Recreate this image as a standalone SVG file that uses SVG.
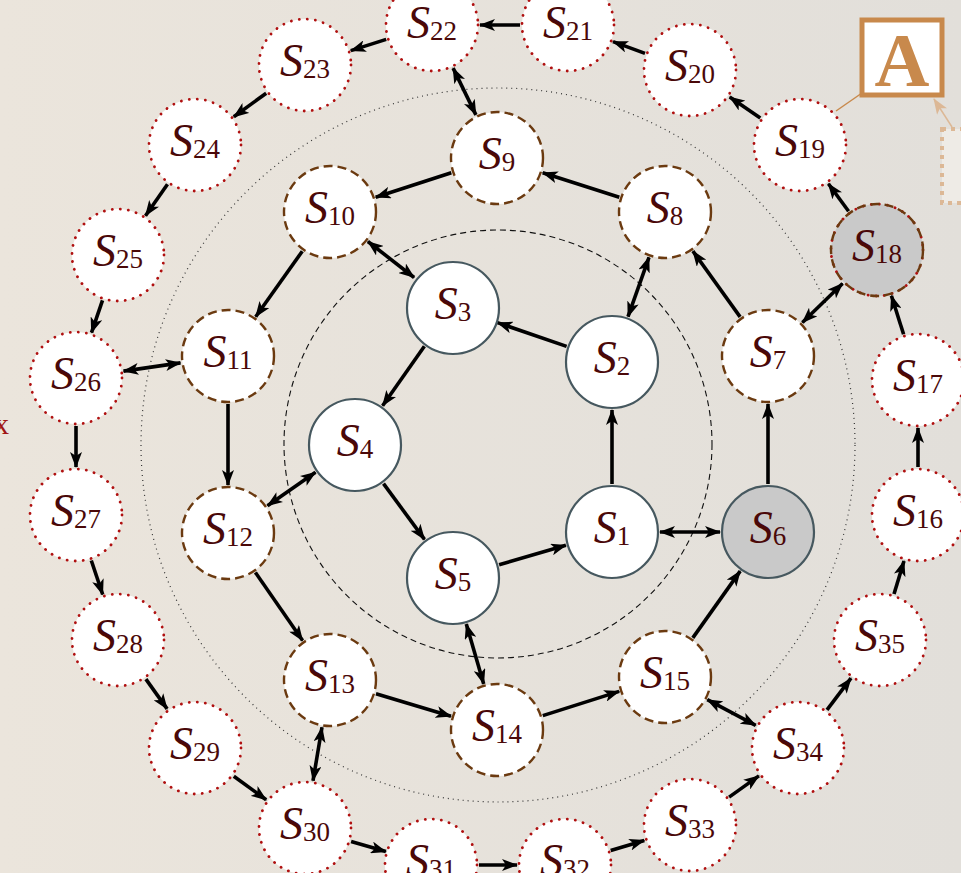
<svg xmlns="http://www.w3.org/2000/svg" width="961" height="873" viewBox="0 0 961 873">
<defs>
<linearGradient id="bg" x1="0" y1="0" x2="1" y2="0">
<stop offset="0" stop-color="#ebe5dc"/>
<stop offset="1" stop-color="#e2dfda"/>
</linearGradient>
<marker id="ah" viewBox="0 0 16 12" refX="15" refY="6" markerWidth="16" markerHeight="12" markerUnits="userSpaceOnUse" orient="auto-start-reverse">
<path d="M0,0 L16,6 L0,12 L4,6 z" fill="#000"/>
</marker>
<marker id="ah2" viewBox="0 0 16 12" refX="15" refY="6" markerWidth="16" markerHeight="12" markerUnits="userSpaceOnUse" orient="auto">
<path d="M0,0 L16,6 L0,12 L4,6 z" fill="#dcb896"/>
</marker>
</defs>
<style>
.in{fill:#fff;stroke:#46585f;stroke-width:2.2}
.mid{fill:#fff;stroke:#6b3a10;stroke-width:2.4;stroke-dasharray:9 5}
.out{fill:#fff;stroke:#b01010;stroke-width:2.8;stroke-dasharray:0.1 8;stroke-linecap:round}
.gray{fill:#c9c9c9}
.lb{font-family:"Liberation Serif",serif;font-style:italic;font-size:46px;fill:#4a0808;text-anchor:middle}
.sb{font-style:normal;font-size:27px}
.e{stroke:#000;stroke-width:3.6;fill:none;marker-end:url(#ah)}
.b{stroke:#000;stroke-width:3.6;fill:none;marker-end:url(#ah);marker-start:url(#ah)}
</style>
<rect x="0" y="0" width="961" height="873" fill="url(#bg)"/>
<circle cx="498" cy="445" r="357" fill="none" stroke="#333" stroke-width="1.2" stroke-dasharray="1 4"/>
<circle cx="498" cy="444" r="214" fill="none" stroke="#111" stroke-width="1.1" stroke-dasharray="6 4"/>
<text x="-6" y="434" font-family="Liberation Serif,serif" font-size="30" fill="#a01515">x</text>

<g id="connectors">
<line class="e" x1="612" y1="484" x2="612" y2="410"/>
<line class="e" x1="566.6" y1="346.4" x2="497.4" y2="322.6"/>
<line class="e" x1="424.4" y1="346.3" x2="382.6" y2="405.7"/>
<line class="e" x1="383.5" y1="483.6" x2="424.5" y2="539.4"/>
<line class="e" x1="499.1" y1="564.7" x2="565.9" y2="545.3"/>
<line class="b" x1="660" y1="532" x2="720" y2="532"/>
<line class="e" x1="768" y1="484" x2="768" y2="404"/>
<line class="e" x1="692.8" y1="637.9" x2="740.2" y2="571.1"/>
<line class="e" x1="740.1" y1="316.9" x2="692.9" y2="251.1"/>
<line class="e" x1="619.3" y1="197.3" x2="542.7" y2="172.7"/>
<line class="e" x1="451.3" y1="172.8" x2="375.7" y2="197.2"/>
<line class="e" x1="302.3" y1="251.2" x2="255.7" y2="316.8"/>
<line class="e" x1="228" y1="404" x2="228" y2="485"/>
<line class="e" x1="255.4" y1="572.4" x2="302.6" y2="640.6"/>
<line class="e" x1="376" y1="693.8" x2="451" y2="716.2"/>
<line class="e" x1="542.8" y1="715.6" x2="619.2" y2="691.4"/>
<line class="b" x1="628" y1="316.7" x2="649" y2="257.3"/>
<line class="b" x1="414.1" y1="277.5" x2="367.9" y2="241.5"/>
<line class="b" x1="315.5" y1="472.3" x2="267.5" y2="505.7"/>
<line class="b" x1="466.3" y1="624.1" x2="483.7" y2="683.9"/>
<line class="b" x1="802.4" y1="322.5" x2="842.6" y2="283.5"/>
<line class="b" x1="475.9" y1="114.9" x2="453.1" y2="68.1"/>
<line class="b" x1="180.5" y1="362.9" x2="123.5" y2="371.1"/>
<line class="b" x1="322" y1="727.3" x2="313" y2="780.7"/>
<line class="b" x1="707.3" y1="699.6" x2="755.7" y2="725.4"/>
<line class="e" x1="918" y1="467" x2="918" y2="428"/>
<line class="e" x1="903.6" y1="334.2" x2="891.4" y2="295.8"/>
<line class="e" x1="848.6" y1="211.3" x2="828.4" y2="183.7"/>
<line class="e" x1="760.3" y1="118" x2="729.7" y2="97"/>
<line class="e" x1="645" y1="53.4" x2="613" y2="41.6"/>
<line class="e" x1="520" y1="25" x2="480" y2="25"/>
<line class="e" x1="386.2" y1="39.4" x2="350.8" y2="50.6"/>
<line class="e" x1="266.2" y1="93.2" x2="233.8" y2="116.8"/>
<line class="e" x1="167.5" y1="184.3" x2="145.5" y2="215.7"/>
<line class="e" x1="102.5" y1="300.4" x2="91.5" y2="332.6"/>
<line class="e" x1="76" y1="426" x2="76" y2="467"/>
<line class="e" x1="91.3" y1="560.5" x2="102.7" y2="594.5"/>
<line class="e" x1="145.9" y1="679.1" x2="167.1" y2="708.9"/>
<line class="e" x1="233.8" y1="776.2" x2="266.2" y2="799.8"/>
<line class="e" x1="351.1" y1="841.4" x2="385.9" y2="851.6"/>
<line class="e" x1="479" y1="865" x2="517" y2="865"/>
<line class="e" x1="610.7" y1="850.4" x2="644.3" y2="840.4"/>
<line class="e" x1="729.1" y1="797.1" x2="758.9" y2="775.9"/>
<line class="e" x1="827" y1="709.8" x2="851" y2="678.2"/>
<line class="e" x1="894" y1="594" x2="904" y2="561"/>
</g>

<g id="S1"><circle class="in" cx="612" cy="532" r="46"/><text class="lb" x="612" y="543">S<tspan class="sb" dy="2">1</tspan></text></g>
<g id="S2"><circle class="in" cx="612" cy="362" r="46"/><text class="lb" x="612" y="373">S<tspan class="sb" dy="2">2</tspan></text></g>
<g id="S3"><circle class="in" cx="453" cy="308" r="46"/><text class="lb" x="453" y="319">S<tspan class="sb" dy="2">3</tspan></text></g>
<g id="S4"><circle class="in" cx="355" cy="445" r="46"/><text class="lb" x="355" y="456">S<tspan class="sb" dy="2">4</tspan></text></g>
<g id="S5"><circle class="in" cx="453" cy="578" r="46"/><text class="lb" x="453" y="589">S<tspan class="sb" dy="2">5</tspan></text></g>
<g id="S6"><circle class="in gray" cx="768" cy="532" r="46"/><text class="lb" x="768" y="543">S<tspan class="sb" dy="2">6</tspan></text></g>

<g id="S7"><circle class="mid" cx="768" cy="356" r="46"/><text class="lb" x="768" y="367">S<tspan class="sb" dy="2">7</tspan></text></g>
<g id="S8"><circle class="mid" cx="665" cy="212" r="46"/><text class="lb" x="665" y="223">S<tspan class="sb" dy="2">8</tspan></text></g>
<g id="S9"><circle class="mid" cx="497" cy="158" r="46"/><text class="lb" x="497" y="169">S<tspan class="sb" dy="2">9</tspan></text></g>
<g id="S10"><circle class="mid" cx="330" cy="212" r="46"/><text class="lb" x="330" y="223">S<tspan class="sb" dy="2">10</tspan></text></g>
<g id="S11"><circle class="mid" cx="228" cy="356" r="46"/><text class="lb" x="228" y="367">S<tspan class="sb" dy="2">11</tspan></text></g>
<g id="S12"><circle class="mid" cx="228" cy="533" r="46"/><text class="lb" x="228" y="544">S<tspan class="sb" dy="2">12</tspan></text></g>
<g id="S13"><circle class="mid" cx="330" cy="680" r="46"/><text class="lb" x="330" y="691">S<tspan class="sb" dy="2">13</tspan></text></g>
<g id="S14"><circle class="mid" cx="497" cy="730" r="46"/><text class="lb" x="497" y="741">S<tspan class="sb" dy="2">14</tspan></text></g>
<g id="S15"><circle class="mid" cx="665" cy="677" r="46"/><text class="lb" x="665" y="688">S<tspan class="sb" dy="2">15</tspan></text></g>
<g id="S18"><circle class="out gray" cx="877" cy="250" r="46"/><circle class="mid" cx="877" cy="250" r="46" style="fill:none"/><text class="lb" x="877" y="261">S<tspan class="sb" dy="2">18</tspan></text></g>

<g id="S16"><circle class="out" cx="918" cy="515" r="46"/><text class="lb" x="918" y="526">S<tspan class="sb" dy="2">16</tspan></text></g>
<g id="S17"><circle class="out" cx="918" cy="380" r="46"/><text class="lb" x="918" y="391">S<tspan class="sb" dy="2">17</tspan></text></g>
<g id="S19"><circle class="out" cx="800" cy="145" r="46"/><text class="lb" x="800" y="156">S<tspan class="sb" dy="2">19</tspan></text></g>
<g id="S20"><circle class="out" cx="690" cy="70" r="46"/><text class="lb" x="690" y="81">S<tspan class="sb" dy="2">20</tspan></text></g>
<g id="S21"><circle class="out" cx="568" cy="25" r="46"/><text class="lb" x="568" y="38">S<tspan class="sb" dy="2">21</tspan></text></g>
<g id="S22"><circle class="out" cx="432" cy="25" r="46"/><text class="lb" x="432" y="38">S<tspan class="sb" dy="2">22</tspan></text></g>
<g id="S23"><circle class="out" cx="305" cy="65" r="46"/><text class="lb" x="305" y="76">S<tspan class="sb" dy="2">23</tspan></text></g>
<g id="S24"><circle class="out" cx="195" cy="145" r="46"/><text class="lb" x="195" y="156">S<tspan class="sb" dy="2">24</tspan></text></g>
<g id="S25"><circle class="out" cx="118" cy="255" r="46"/><text class="lb" x="118" y="266">S<tspan class="sb" dy="2">25</tspan></text></g>
<g id="S26"><circle class="out" cx="76" cy="378" r="46"/><text class="lb" x="76" y="389">S<tspan class="sb" dy="2">26</tspan></text></g>
<g id="S27"><circle class="out" cx="76" cy="515" r="46"/><text class="lb" x="76" y="526">S<tspan class="sb" dy="2">27</tspan></text></g>
<g id="S28"><circle class="out" cx="118" cy="640" r="46"/><text class="lb" x="118" y="651">S<tspan class="sb" dy="2">28</tspan></text></g>
<g id="S29"><circle class="out" cx="195" cy="748" r="46"/><text class="lb" x="195" y="759">S<tspan class="sb" dy="2">29</tspan></text></g>
<g id="S30"><circle class="out" cx="305" cy="828" r="46"/><text class="lb" x="305" y="839">S<tspan class="sb" dy="2">30</tspan></text></g>
<g id="S31"><circle class="out" cx="431" cy="865" r="46"/><text class="lb" x="431" y="876">S<tspan class="sb" dy="2">31</tspan></text></g>
<g id="S32"><circle class="out" cx="565" cy="865" r="46"/><text class="lb" x="565" y="876">S<tspan class="sb" dy="2">32</tspan></text></g>
<g id="S33"><circle class="out" cx="690" cy="825" r="46"/><text class="lb" x="690" y="836">S<tspan class="sb" dy="2">33</tspan></text></g>
<g id="S34"><circle class="out" cx="798" cy="748" r="46"/><text class="lb" x="798" y="759">S<tspan class="sb" dy="2">34</tspan></text></g>
<g id="S35"><circle class="out" cx="880" cy="640" r="46"/><text class="lb" x="880" y="651">S<tspan class="sb" dy="2">35</tspan></text></g>

<g id="callout">
<line x1="862" y1="93" x2="836" y2="111" stroke="#c8894c" stroke-width="1.5"/>
<rect x="862" y="20" width="80" height="75" fill="#fff" stroke="#c8894c" stroke-width="5"/>
<text x="902" y="86" font-family="Liberation Serif,serif" font-weight="bold" font-size="76" fill="#c8894c" text-anchor="middle">A</text>
<rect x="942" y="129" width="40" height="74" fill="#eeebe6" stroke="#dcb896" stroke-width="4" stroke-dasharray="4 5"/>
<line x1="952" y1="127" x2="934" y2="99" stroke="#dcb896" stroke-width="1.5" marker-end="url(#ah2)"/>
</g>
</svg>
